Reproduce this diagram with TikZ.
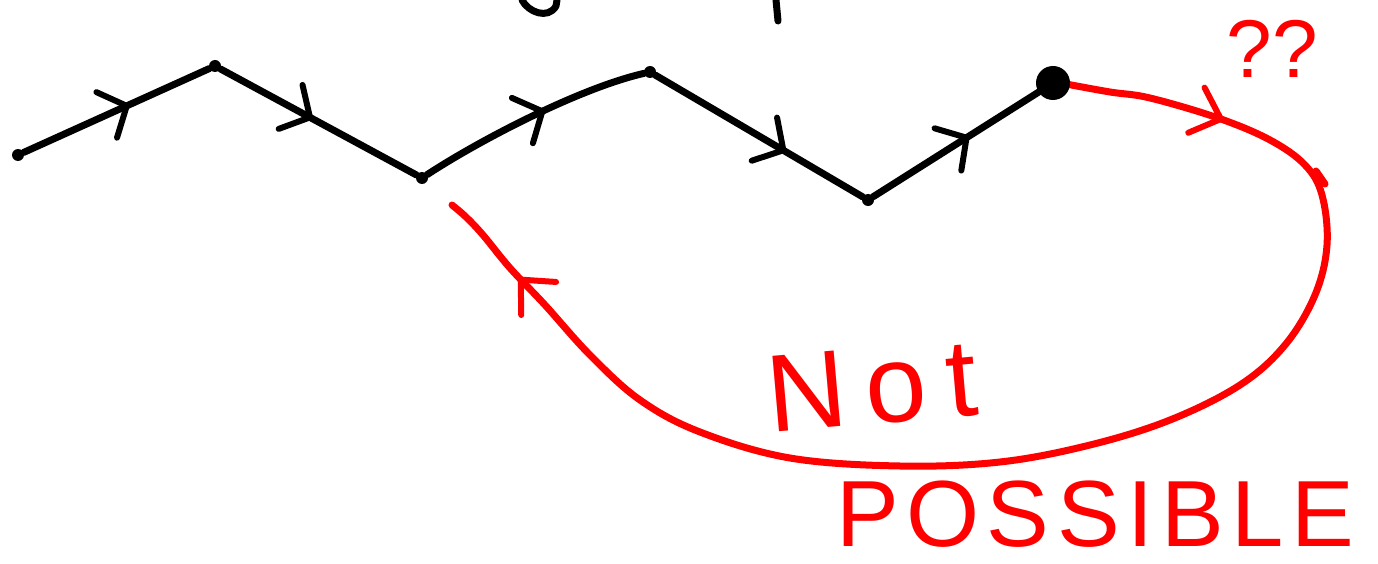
\documentclass[tikz,border=0pt]{standalone}
\usepackage{fontspec}
\setmainfont{Liberation Sans}
\usetikzlibrary{arrows.meta,decorations.markings}
\definecolor{pen}{RGB}{255,0,0}
\tikzset{
  penline/.style={line width=7pt, line cap=round, line join=round},
  blk/.style={penline, draw=black},
  rd/.style={penline, draw=pen},
  vtx/.style={circle, fill=black, inner sep=0pt, minimum size=12pt},
  bigvtx/.style={circle, fill=black, inner sep=0pt, minimum size=34pt},
  midtip/.style={postaction={decorate, decoration={markings,
      mark=at position #1 with {\arrow{Straight Barb[length=22pt,width=50pt,line width=6pt,round]}}}}},
  redtip/.style={postaction={decorate, decoration={markings,
      mark=at position #1 with {\arrow[pen]{Straight Barb[length=26pt,width=48pt,line width=6pt,round]}}}}},
  handtext/.style={pen, inner sep=0pt},
}
\begin{document}
\begin{tikzpicture}[x=1pt,y=-1pt]
\useasboundingbox (0,0) rectangle (1378,564);
% vertices
\node[vtx] (v0) at (18,155) {};
\node[vtx] (v1) at (215,66) {};
\node[vtx] (v2) at (422,178) {};
\node[vtx] (v3) at (650,72) {};
\node[vtx] (v4) at (868,200) {};
\coordinate (e) at (452,205);
% red loop
\draw[rd, redtip=0.115, redtip=0.93] plot[smooth, tension=0.6] coordinates {
  (1066,84) (1110,92) (1150,98) (1218,118) (1270,140) (1305,165) (1322,195)
  (1327,245) (1315,295) (1285,345) (1240,385) (1170,420) (1090,445) (1000,462)
  (900,466) (790,458) (700,432) (640,400) (590,355) (545,305) (510,268)
  (483,235) (466,217) (e)};
\node[bigvtx] (v5) at (1053,83) {};
% small pen tick on the red loop
\coordinate (k1) at (1316,171);
\coordinate (k2) at (1325,184);
\draw[rd] (k1) -- (k2);
% black path
\draw[blk, midtip=0.57] (v0) -- (v1);
\draw[blk, midtip=0.47] (v1) -- (v2);
\draw[blk, midtip=0.56] (v2) .. controls (480,140) and (580,88) .. (v3);
\draw[blk, midtip=0.63] (v3) -- (v4);
\draw[blk, midtip=0.58] (v4) -- (v5);
% cut-off strokes at the top
\draw[blk] (522,0) .. controls (528,12) and (548,20) .. (556,6) -- (557,0);
\draw[blk] (776,0) -- (778,21);
% texts
\node[handtext, font=\fontsize{82}{82}\selectfont, anchor=base] (q) at (1272,78) {??};
\node[handtext, font=\fontsize{110}{110}\selectfont\addfontfeature{LetterSpace=18}, rotate=5, anchor=base west] (not) at (770,433) {Not};
\node[handtext, font=\fontsize{94}{94}\selectfont\addfontfeature{LetterSpace=8}, anchor=base west] (pos) at (836,546) {POSSIBLE};
\end{tikzpicture}
\end{document}
